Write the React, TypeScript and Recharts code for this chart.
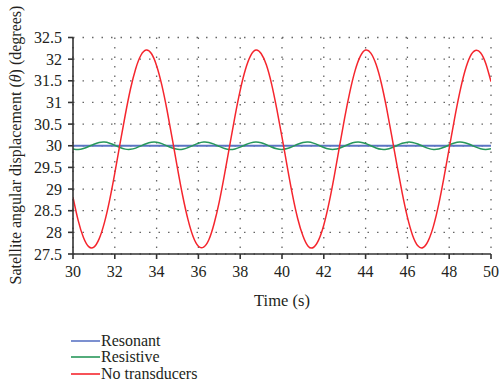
import React from 'react';
import { LineChart, Line, XAxis, YAxis, CartesianGrid, Legend } from 'recharts';

const time = [
  30, 30.25, 30.5, 30.75, 31, 31.25, 31.5, 31.75, 32, 32.25, 32.5, 32.75, 33, 33.25, 33.5, 33.75,
  34, 34.25, 34.5, 34.75, 35, 35.25, 35.5, 35.75, 36, 36.25, 36.5, 36.75, 37, 37.25, 37.5, 37.75,
  38, 38.25, 38.5, 38.75, 39, 39.25, 39.5, 39.75, 40, 40.25, 40.5, 40.75, 41, 41.25, 41.5, 41.75,
  42, 42.25, 42.5, 42.75, 43, 43.25, 43.5, 43.75, 44, 44.25, 44.5, 44.75, 45, 45.25, 45.5, 45.75,
  46, 46.25, 46.5, 46.75, 47, 47.25, 47.5, 47.75, 48, 48.25, 48.5, 48.75, 49, 49.25, 49.5, 49.75, 50,
];

const noTransducers = [
  28.81, 28.27, 27.88, 27.67, 27.66, 27.85, 28.22, 28.74, 29.37, 30.05, 30.71, 31.31, 31.78, 32.09, 32.21, 32.13,
  31.85, 31.40, 30.82, 30.16, 29.48, 28.84, 28.30, 27.90, 27.68, 27.66, 27.83, 28.20, 28.71, 29.34, 30.01, 30.68,
  31.28, 31.76, 32.08, 32.21, 32.13, 31.87, 31.43, 30.85, 30.20, 29.52, 28.87, 28.32, 27.92, 27.68, 27.65, 27.82,
  28.17, 28.68, 29.30, 29.98, 30.65, 31.25, 31.74, 32.07, 32.21, 32.14, 31.88, 31.45, 30.88, 30.23, 29.55, 28.91,
  28.35, 27.93, 27.69, 27.65, 27.81, 28.15, 28.65, 29.27, 29.94, 30.61, 31.22, 31.72, 32.06, 32.20, 32.15, 31.90, 31.48,
];

const resistive = [
  29.928, 29.915, 29.936, 29.983, 30.036, 30.075, 30.084, 30.059, 30.011, 29.958, 29.922, 29.917, 29.946, 29.996, 30.047, 30.08,
  30.081, 30.049, 29.998, 29.947, 29.918, 29.921, 29.956, 30.009, 30.058, 30.084, 30.076, 30.038, 29.985, 29.938, 29.915, 29.927,
  29.968, 30.022, 30.067, 30.085, 30.069, 30.026, 29.972, 29.929, 29.915, 29.935, 29.98, 30.034, 30.074, 30.084, 30.061, 30.013,
  29.96, 29.923, 29.917, 29.944, 29.993, 30.046, 30.08, 30.082, 30.051, 30.0, 29.949, 29.918, 29.92, 29.954, 30.007, 30.056,
  30.083, 30.077, 30.04, 29.987, 29.939, 29.916, 29.926, 29.966, 30.019, 30.065, 30.085, 30.071, 30.028, 29.974, 29.931, 29.915, 29.933,
];

const resonantTime = [30, 35, 40, 45, 50];
const resonant = [30, 30, 30, 30, 30];

const xTicks = [30, 32, 34, 36, 38, 40, 42, 44, 46, 48, 50];
const yTicks = [27.5, 28, 28.5, 29, 29.5, 30, 30.5, 31, 31.5, 32, 32.5];

const seriesNames = ['Resonant', 'Resistive', 'No transducers'];
const seriesColors = ['#5b74c4', '#27975a', '#f5262e'];

const data = time.map((t, i) => ({ t, resistive: resistive[i], none: noTransducers[i] }));
const resonantData = resonantTime.map((t, i) => ({ t, resonant: resonant[i] }));

const FONT = '"Liberation Serif", "Times New Roman", serif';
const TEXT = '#231f20';

const YLabel = () => (
  <text
    x={15}
    y={145}
    transform="rotate(-90 15 145)"
    textAnchor="middle"
    dominantBaseline="central"
    fontFamily={FONT}
    fontSize={16}
    fill={TEXT}
  >
    <tspan>Satellite angular displacement (</tspan>
    <tspan fontStyle="italic">θ</tspan>
    <tspan>) (degrees)</tspan>
  </text>
);

const LegendContent = () => (
  <div style={{ fontFamily: FONT, fontSize: 16, color: TEXT }}>
    {seriesNames.map((n, i) => (
      <div key={n} style={{ display: 'flex', alignItems: 'center', height: 16.3, lineHeight: '16.3px' }}>
        <svg width={29} height={4} style={{ display: 'block', marginRight: 1 }}>
          <line x1={0} y1={2} x2={29} y2={2} stroke={seriesColors[i]} strokeWidth={1.6} />
        </svg>
        <span>{n}</span>
      </div>
    ))}
  </div>
);

export default function App() {
  return (
    <div style={{ width: 500, height: 386, background: '#fff' }}>
      <style>{`body{margin:0;}`}</style>
      <LineChart width={500} height={386} data={data} margin={{ top: 37.5, right: 9, bottom: 92, left: 0 }}>
        <CartesianGrid stroke="#666" strokeDasharray="1.5 8" strokeWidth={1.3} horizontalValues={yTicks} verticalValues={xTicks} />
        <XAxis
          dataKey="t"
          type="number"
          domain={[30, 50]}
          ticks={xTicks}
          interval={0}
          allowDataOverflow
          height={40}
          tickSize={5}
          tickMargin={7}
          stroke="#333"
          strokeWidth={1.6}
          tick={{ fontFamily: FONT, fontSize: 16, fill: TEXT }}
          label={{ value: 'Time (s)', position: 'insideBottom', offset: -12, style: { fontFamily: FONT, fontSize: 16.5, fill: TEXT } }}
        />
        <XAxis xAxisId="top" orientation="top" dataKey="t" type="number" domain={[30, 50]} height={0} tick={false} tickLine={false} stroke="#777" />
        <YAxis
          type="number"
          domain={[27.5, 32.5]}
          ticks={yTicks}
          interval={0}
          allowDataOverflow
          width={73}
          tickSize={5}
          tickMargin={6}
          stroke="#333"
          strokeWidth={1.6}
          tick={{ fontFamily: FONT, fontSize: 16, fill: TEXT }}
          label={<YLabel />}
        />
        <YAxis yAxisId="right" orientation="right" domain={[27.5, 32.5]} width={0} tick={false} tickLine={false} stroke="#777" />
        <Legend
          layout="vertical"
          align="center"
          verticalAlign="middle"
          content={<LegendContent />}
          wrapperStyle={{ left: 71, top: 333, width: 200, height: 50 }}
        />
        <Line data={resonantData} dataKey="resonant" name="Resonant" stroke={seriesColors[0]} strokeWidth={2} dot={false} isAnimationActive={false} type="linear" />
        <Line dataKey="resistive" name="Resistive" stroke={seriesColors[1]} strokeWidth={1.5} dot={false} isAnimationActive={false} type="natural" />
        <Line dataKey="none" name="No transducers" stroke={seriesColors[2]} strokeWidth={1.5} dot={false} isAnimationActive={false} type="natural" />
      </LineChart>
    </div>
  );
}
